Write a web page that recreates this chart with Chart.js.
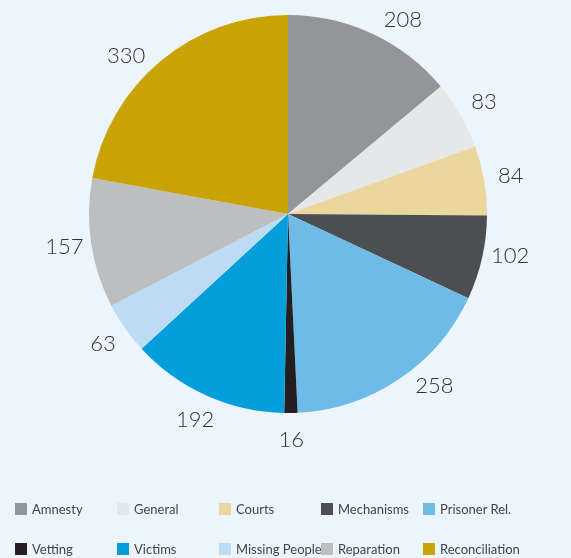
<!DOCTYPE html>
<html>
<head>
<meta charset="utf-8">
<script src="https://cdn.jsdelivr.net/npm/chart.js@4/dist/chart.umd.min.js"></script>
<style>
  html, body { margin: 0; padding: 0; background: #EDF5FC; }
  body { width: 571px; height: 558px; position: relative; overflow: hidden; font-family: 'Lato', 'Noto Sans', sans-serif; }
  #wrap { position: absolute; left: 0; top: 0; width: 571px; height: 470px; }
  #legend { position: absolute; left: 0; top: 0; width: 571px; height: 558px; pointer-events: none; }
  .item { position: absolute; font-size: 13px; color: #444; white-space: nowrap; line-height: 14px; }
  .item span.box { position: absolute; left: 0; top: 1px; width: 12px; height: 12px; }
  .item span.txt { position: absolute; left: 17px; top: 0; }
</style>
</head>
<body>
<div id="wrap"><canvas id="pieChart"></canvas></div>
<div id="legend"></div>
<script>
const categories = ['Amnesty', 'General', 'Courts', 'Mechanisms', 'Prisoner Rel.', 'Vetting', 'Victims', 'Missing People', 'Reparation', 'Reconciliation'];
const values = [208, 83, 84, 102, 258, 16, 192, 63, 157, 330];
const colors = ['#939598', '#E6E7E8', '#EBD69E', '#4D4E51', '#6FBBE8', '#231F20', '#049FDB', '#BDDCF3', '#BCBEC0', '#C9A204'];

// small angle nudges (degrees) for a few labels, like the original layout
const labelNudge = { 0: 5.5, 3: -2, 4: -6.5, 9: -6 };

// value labels outside each slice
const outsideLabels = {
    id: 'outsideLabels',
    afterDatasetsDraw(chart) {
        const ctx = chart.ctx;
        const meta = chart.getDatasetMeta(0);
        ctx.save();
        ctx.font = '300 22px Lato, "Noto Sans", sans-serif';
        ctx.fillStyle = '#333';
        ctx.textAlign = 'center';
        ctx.textBaseline = 'middle';
        meta.data.forEach((arc, i) => {
            const p = arc.getProps(['x', 'y', 'startAngle', 'endAngle', 'outerRadius'], true);
            const mid = (p.startAngle + p.endAngle) / 2 + (labelNudge[i] || 0) * Math.PI / 180;
            const r = p.outerRadius + 27;
            ctx.fillText(String(values[i]), p.x + Math.cos(mid) * r, p.y + Math.sin(mid) * r);
        });
        ctx.restore();
    }
};

const chart = new Chart(document.getElementById('pieChart'), {
    type: 'pie',
    data: {
        labels: categories,
        datasets: [{
            data: values,
            backgroundColor: colors,
            borderWidth: 0
        }]
    },
    options: {
        responsive: true,
        maintainAspectRatio: false,
        animation: false,
        layout: { padding: { top: 15, bottom: 57, left: 5, right: 0 } },
        plugins: {
            legend: { display: false },
            tooltip: { enabled: false }
        }
    },
    plugins: [outsideLabels]
});

// legend in two rows of five
const legend = document.getElementById('legend');
const colX = [15, 117, 219, 321, 423];
const rowY = [502, 542];
categories.forEach((name, i) => {
    const div = document.createElement('div');
    div.className = 'item';
    div.style.left = colX[i % 5] + 'px';
    div.style.top = rowY[Math.floor(i / 5)] + 'px';
    div.innerHTML = '<span class="box" style="background:' + colors[i] + '"></span><span class="txt">' + name + '</span>';
    legend.appendChild(div);
});
</script>
</body>
</html>
